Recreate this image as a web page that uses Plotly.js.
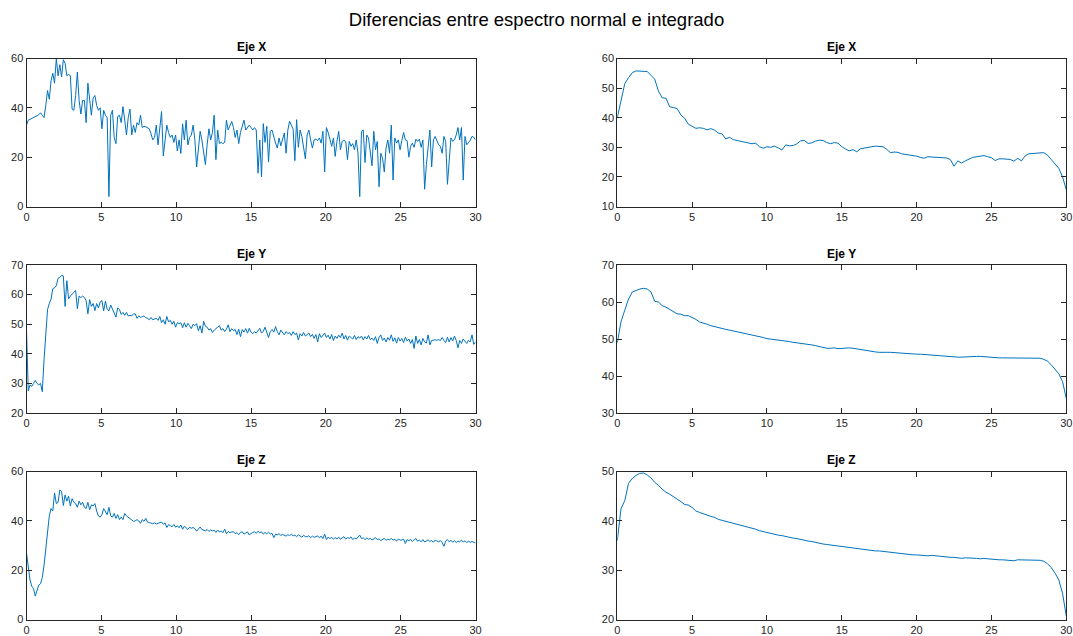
<!DOCTYPE html>
<html>
<head>
<meta charset="utf-8">
<script src="https://cdn.plot.ly/plotly-3.0.1.min.js"></script>
<style>html,body{margin:0;padding:0;background:#fff;}#chart{width:1073px;height:636px;}</style>
</head>
<body>
<div id="chart"></div>
<script>
// ---- data ----
const mainTitle = "Diferencias entre espectro normal e integrado";
const subTitles = ["Eje X", "Eje X", "Eje Y", "Eje Y", "Eje Z", "Eje Z"];
const freqStepNormal = 60 / 512;   // spectrum resolution (Hz)
const freqStepIntegrated = 0.25;

const normalX = [
33,35,35.3,35.6,36,36.4,36.8,37.2,38,37,
36,41,47,43.5,51,54,50,60,53,57.5,
52.5,59.5,58,53,53.5,53,39.5,39,45,54.5,
43,37.5,43,43,34,50,44,37,44,45,
41,39,40,31.5,39,37,36,4,37,39,
28,25.5,36.5,37,34,40.5,35,29,36,39.5,
29,33,30,34,33,37,32,32.5,32.3,32,
31.5,29.5,27,28,33,25,32,38.5,20.5,28,
33,30,28,29,26,29,22.5,27,21.5,33.5,
27,35,25,28,29,33,27,16,23,30.5,
27,22,17,25,31.5,27,30,37,19,31,
25.5,26,25.5,26,35,31,33,34.5,32,28,
31,25.5,30,33,35,31,32,33,32,31,
32,31,13.5,27,12,33.6,26,32.5,18,30.5,
31,28,25.7,23.7,27.8,24.6,27,29.8,21.6,31,
34.6,33,31.4,18.6,35.2,24,31,28.4,23.7,19.3,
29,31,27,23.7,27,27.3,26.7,27.8,25.7,30.5,
14,32,30,27,24.4,27.8,20.3,26.4,30.5,23,
26.4,26.8,26.4,19,26.4,24.4,25.5,23,27,21.6,
4,30.5,31,17.8,29,27.8,21.6,16.5,30.5,23,
26.4,8,21.6,19.6,14,23.7,27,21.6,33,10.7,
27.8,25.7,27,23,26.8,30,27,26.7,20,24.4,
25.7,24,27.3,26.4,27.3,24,27,7,17,23.7,
31,16,27,28.4,26.4,25,24.4,21.6,28.4,26.4,
9,20.9,27.8,26.4,27,29,32,27,32,10.7,
28.4,25,25.7,26.8,28.4,28.1,27];

const normalY = [
48,27.5,29.5,29,30,31,30,29.5,30,27.2,
38,47,55,57,58.5,62,62.3,63,65.5,65.8,
66.5,66.3,56,64.7,58.6,59.5,60.3,60.8,61.4,55.2,
59.5,59,59.5,59,58,53.5,58.3,56,57,54.6,
57,55.5,57.5,58,54.5,57.8,55,54.5,56.5,55,
54,52.4,55.5,55,53.3,54,53,54,52.8,53,
52.8,53.5,53.5,52,52.8,52.3,52.5,52.8,52.2,52,
51.5,52.3,51.5,51.8,52,51.3,52.6,50.5,51.5,50,
52.6,50.8,51.3,50,51,49,50.5,50.2,50.5,48.8,
50.5,49,50.3,49.5,48.5,50,49.5,50.2,47.8,49.5,
47,51,49.3,49,48,48.5,47.2,48,48.5,49,
49.5,48,48.5,47.5,48.3,49.8,47.5,48.5,47.8,48.2,
46.5,48.3,45.8,48.2,47.3,48.5,47,48.6,47.3,46.8,
47.5,47,47.8,48.6,47,47.6,49,46.8,45.5,47.5,
48.2,47.3,49.2,47.5,46.4,48,47,46.4,47.5,46.8,
47.2,46.2,47.5,46.5,47,44.7,46.8,46,47.2,46,
46.5,47,45.8,46.6,45.2,46.5,44,46.8,45.5,46.2,
47,45.5,46.3,45,46.5,44.5,46,45.2,46.3,45.5,
47,45,46.2,44.6,46,45.5,45,46.2,44.8,45.8,
45.3,46,44.7,45.8,45,46.2,44.8,45.3,44.5,45.8,
43.5,45.5,46.4,44.5,45.3,44,45.5,44.6,46.4,44.2,
45.4,43.6,45.5,44.3,45.2,43.8,45.6,44.3,45,43.5,
44.8,41.8,46,43.5,44.8,43,45.2,44,43.6,46.4,
43,44.5,44.7,44.7,44.6,44.8,44.5,45.5,44.5,43.8,
45.6,44,45.5,44.3,46,44.5,42,44.5,43.5,45,
44.2,43.5,44.6,44,46.4,43.2,44];

const normalZ = [
27,21,16,13.5,12.5,9.5,12,14,14.5,17,
22,28,36,42,45,44,51.3,47,47.5,52.5,
52,46.2,50.5,48,50,46,49,47.5,47,45.5,
48,46.5,47.5,45.5,45,47.5,44.5,46.5,46,47,
44,42,41.5,42.5,45,44,42.5,45.5,42,41.5,
43,41,42.5,40.5,41.5,40.5,43,42,41.5,41,
40.5,39.8,40,40.5,40,39,40.5,39.8,41,39.5,
39.3,39,38.8,39.2,38.7,39,39.3,39.5,38.6,39.2,
37.3,38.5,38,37.6,38.5,37.4,38,37.2,38.3,36.6,
37.8,37.2,36.5,37.4,37,37.3,36.8,35.8,36.8,37.5,
36.5,36.2,35.9,36.5,35.7,36.3,35.9,36.2,35.3,36.3,
35.5,35.9,35.2,36.6,34.8,35.7,35.2,35.5,35.6,34.8,
35.2,34.4,35.3,35.6,34.6,35.1,35.5,34.3,34.9,35.3,
35.6,34.9,35.8,35.2,35.5,34.6,35.3,34.8,35.4,34.7,
34.9,33.2,34.6,34.3,34.8,34.1,34.5,34.3,33.8,34.4,
34,34.6,33.9,34.2,33.6,34.3,33.8,33.4,34.1,33.6,
33.5,34,33.2,33.8,33.3,33.5,33.9,33.1,33.8,32.8,
34.6,32.4,33.4,32.8,33.3,32.6,33.2,32.7,33.4,32.5,
33.1,33.6,32.6,33.2,32.9,33.5,32.4,33,32.6,33.3,
34.2,32.8,33.1,32.4,33,32.5,32.9,32.2,32.8,33.2,
32.4,32.7,32,32.6,32.9,32.1,32.6,32.3,32.8,32.2,
32.5,31.8,32.6,32.2,32.2,32.6,30.8,32.4,31.9,32.5,
31.6,32.3,32.8,31.7,32.2,31.5,32.4,31.4,32,32.3,
31.6,32.1,31.3,32.2,31.8,31.5,32,31.2,29.7,31.8,
32.4,31.5,32.1,31.3,31.9,31.2,31.8,31.5,32.2,31.4,
31.9,31.2,31.7,31.3,31.6,31.2,31];

const integX = [
40,46,51.5,53.5,55.2,55.8,55.8,55.7,55.6,54.3,
53,49,46.7,46.6,43.7,43.4,43.1,40.9,39.8,37.8,
37,36.4,36.6,36.4,35.9,36.3,35.8,34.8,34.5,32.8,
33.4,32.6,32.3,32,31.7,31.5,31.2,31.4,30.2,29.7,
30.2,30,30.4,29.8,29.1,30.8,30.5,30.6,31.2,32.2,
32.3,31.3,31.5,32.1,32.4,32.3,31.6,31.2,31.6,31.4,
30.2,29.4,28.8,29.2,28.5,29.5,29.8,30,30.2,30.4,
30.4,30.2,29.3,28.2,28.4,28.3,27.8,27.6,27.4,27.3,
27,26.6,26.3,26.8,26.7,26.6,26.7,26.4,26.4,25.9,
23.6,25.4,24.7,25.4,26.1,26.6,26.8,27.1,27.2,26.8,
26.5,25.5,26.1,26.1,26,25.9,25.3,26.3,25.4,27.1,
27.8,27.9,27.8,28,28.2,27.3,25.7,24.2,22.9,20,
15.6];

const integY = [
49,54.7,57.8,60.8,62.7,63.2,63.5,63.7,63.5,62.7,
60.2,60,59,58.6,58,57.6,56.8,56.7,56.3,56.3,
55.9,55.3,54.6,54.4,54,53.6,53.3,53,52.8,52.6,
52.4,52.2,52,51.8,51.6,51.4,51.2,50.8,50.6,50.4,
50.1,50,49.9,49.8,49.7,49.5,49.3,49.1,49,48.8,
48.7,48.6,48.4,48.2,48,47.6,47.5,47.5,47.6,47.4,
47.5,47.6,47.6,47.5,47.3,47.2,47.1,46.7,46.5,46.5,
46.4,46.5,46.4,46.4,46.3,46.2,46.1,46,46,46,
45.9,45.9,45.8,45.7,45.7,45.6,45.5,45.4,45.3,45.2,
45.1,45.1,45.1,45.2,45.3,45.2,45.3,45.3,45.2,45,
44.9,44.8,44.9,44.9,44.9,45,45,44.9,45,45,
44.9,44.8,44.8,44.8,44.5,44,43,41.8,40.6,38.5,
33.9];

const integZ = [
36,42.5,44.1,47.6,48.6,49.2,49.6,49.7,49.3,48.7,
47.8,47.2,46.4,45.8,45.4,44.9,44.5,43.9,43.3,43.2,
42.7,42,41.7,41.4,41.2,40.9,40.7,40.3,40.1,39.9,
39.8,39.6,39.4,39.1,38.9,38.8,38.6,38.3,38,37.8,
37.6,37.4,37.3,37.1,37,36.8,36.7,36.5,36.4,36.2,
36,35.9,35.8,35.6,35.4,35.3,35.2,35.1,35,34.8,
34.7,34.6,34.5,34.4,34.3,34.2,34.1,34,34,33.9,
33.9,33.8,33.7,33.6,33.5,33.4,33.3,33.2,33.2,33.1,
33.1,33,32.9,32.9,33,32.9,32.8,32.8,32.7,32.6,
32.6,32.5,32.4,32.5,32.5,32.4,32.4,32.3,32.4,32.3,
32.2,32.2,32.1,32.1,32,32,31.9,32.1,32.1,32,
32.1,32.1,32.1,32,31.8,31.3,30.5,29.4,28,25.3,
20.7];

const xTicks = [0, 5, 10, 15, 20, 25, 30];
const yRanges = [[0, 60], [10, 60], [20, 70], [30, 70], [0, 60], [20, 50]];
const yTickSteps = [20, 10, 10, 10, 20, 10];

// ---- build ----
const W = 1073, H = 636;
const colsPx = [[26.5, 475.5], [617.3, 1066.3]];
const rowsPx = [[58.5, 206.5], [265, 413], [471.5, 619.5]];
const series = [normalX, integX, normalY, integY, normalZ, integZ];
const steps = [freqStepNormal, freqStepIntegrated, freqStepNormal, freqStepIntegrated, freqStepNormal, freqStepIntegrated];
const ink = '#262626';
const fontFam = 'Liberation Sans, Arial, Helvetica, sans-serif';

const traces = [];
const layout = {
  width: W, height: H, autosize: false,
  margin: {l: 0, r: 0, t: 0, b: 0, pad: 0},
  paper_bgcolor: '#fff', plot_bgcolor: '#fff',
  showlegend: false,
  font: {family: fontFam, size: 11, color: ink},
  title: {text: mainTitle, x: 0.5, xanchor: 'center', y: 1 - 20 / H, yanchor: 'middle',
          xref: 'paper', yref: 'container', font: {family: fontFam, size: 18.5, color: '#000'}},
  annotations: []
};

for (let k = 0; k < 6; k++) {
  const col = k % 2, row = Math.floor(k / 2);
  const vals = series[k];
  const xs = vals.map((_, i) => i * steps[k]);
  const sfx = k === 0 ? '' : String(k + 1);
  traces.push({x: xs, y: vals, type: 'scatter', mode: 'lines',
    xaxis: 'x' + sfx, yaxis: 'y' + sfx,
    line: {color: '#0072BD', width: 1}, hoverinfo: 'skip'});
  const xd = [colsPx[col][0] / W, colsPx[col][1] / W];
  const yd = [1 - rowsPx[row][1] / H, 1 - rowsPx[row][0] / H];
  const common = {showline: true, linecolor: ink, linewidth: 1, mirror: 'ticks',
    ticks: 'inside', ticklen: 5, tickwidth: 1, tickcolor: ink, showgrid: false, zeroline: false,
    tickfont: {family: fontFam, size: 11, color: ink}, fixedrange: true};
  layout['xaxis' + sfx] = Object.assign({}, common, {domain: xd, range: [0, 30],
    tickvals: xTicks, ticktext: xTicks.map(String), anchor: 'y' + sfx});
  const yt = [];
  for (let v = yRanges[k][0]; v <= yRanges[k][1]; v += yTickSteps[k]) yt.push(v);
  layout['yaxis' + sfx] = Object.assign({}, common, {domain: yd, range: yRanges[k],
    tickvals: yt, ticktext: yt.map(String), anchor: 'x' + sfx});
  layout.annotations.push({text: '<b>' + subTitles[k] + '</b>', xref: 'paper', yref: 'paper',
    x: (xd[0] + xd[1]) / 2, y: yd[1], xanchor: 'center', yanchor: 'middle', yshift: 11.5,
    showarrow: false, font: {family: fontFam, size: 12, color: '#000'}});
}

Plotly.newPlot('chart', traces, layout, {staticPlot: true, displayModeBar: false});
</script>
</body>
</html>
